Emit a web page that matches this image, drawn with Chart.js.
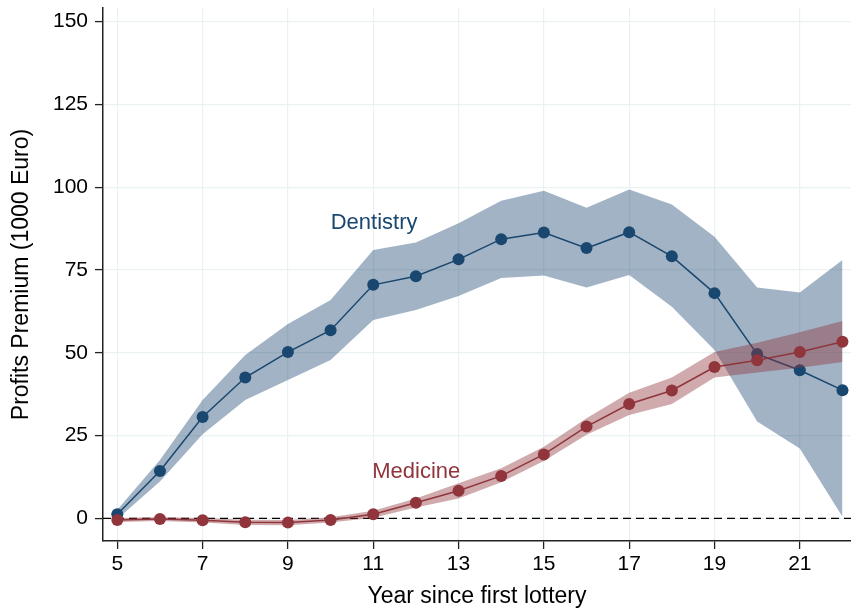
<!DOCTYPE html>
<html>
<head>
<meta charset="utf-8">
<script src="https://cdn.jsdelivr.net/npm/chart.js@4.4.1/dist/chart.umd.min.js"></script>
<style>
  html, body { margin: 0; padding: 0; background: #fff; }
  #chart { display: block; }
</style>
</head>
<body>
<canvas id="chart" width="851" height="615"></canvas>
<script>
const years = [5, 6, 7, 8, 9, 10, 11, 12, 13, 14, 15, 16, 17, 18, 19, 20, 21, 22];

const dentMean  = [1.2, 14.3, 30.6, 42.5, 50.2, 56.8, 70.5, 73.1, 78.2, 84.3, 86.3, 81.6, 86.4, 79.1, 68.0, 49.6, 44.7, 38.7];
const dentUpper = [2.6, 17.6, 35.7, 49.3, 58.7, 65.9, 81.0, 83.3, 89.1, 95.9, 98.9, 93.8, 99.3, 94.8, 85.0, 69.7, 68.2, 78.0];
const dentLower = [-0.2, 11.1, 25.4, 35.7, 41.8, 47.8, 59.9, 62.9, 67.1, 72.6, 73.3, 69.7, 73.5, 63.9, 50.8, 29.2, 21.1, 0.5];

const medMean  = [-0.5, -0.2, -0.6, -1.2, -1.3, -0.5, 1.2, 4.7, 8.3, 12.8, 19.3, 27.7, 34.5, 38.6, 45.7, 47.7, 50.2, 53.3];
const medUpper = [0.1, 0.4, 0.1, -0.4, -0.5, 0.3, 2.3, 6.0, 10.6, 15.1, 21.6, 30.2, 37.9, 42.5, 50.2, 53.0, 56.2, 59.6];
const medLower = [-1.1, -0.8, -1.3, -2.0, -2.1, -1.3, 0.2, 3.3, 6.0, 10.9, 17.3, 25.2, 31.2, 34.5, 42.5, 44.0, 45.5, 47.2];

const xTicks = [5, 7, 9, 11, 13, 15, 17, 19, 21];
const yTicks = [0, 25, 50, 75, 100, 125, 150];

const seriesLabels = [
  { text: "Dentistry", x: 11.02, y: 87.3, color: "#1a476f" },
  { text: "Medicine", x: 12.01, y: 12.3, color: "#90353b" },
];

const navy = "#1a476f";
const maroon = "#90353b";
const fontFamily = "'Liberation Sans', Arial, Helvetica, sans-serif";

const pts = (vals) => years.map((x, i) => ({ x, y: vals[i] }));

const bandEdge = {
  borderWidth: 0,
  pointRadius: 0,
  pointHoverRadius: 0,
  fill: false,
};

const zeroLine = {
  id: "zeroLine",
  beforeDatasetsDraw(chart) {
    const { ctx, chartArea, scales } = chart;
    const y = scales.y.getPixelForValue(0);
    ctx.save();
    ctx.strokeStyle = "#000";
    ctx.lineWidth = 1.3;
    ctx.setLineDash([8, 5]);
    ctx.beginPath();
    ctx.moveTo(chartArea.left, y);
    ctx.lineTo(chartArea.right, y);
    ctx.stroke();
    ctx.restore();
  },
};

const textLabels = {
  id: "textLabels",
  afterDatasetsDraw(chart) {
    const { ctx, scales } = chart;
    ctx.save();
    ctx.font = `22px ${fontFamily}`;
    ctx.textAlign = "center";
    ctx.textBaseline = "alphabetic";
    seriesLabels.forEach((l) => {
      ctx.fillStyle = l.color;
      ctx.fillText(l.text, scales.x.getPixelForValue(l.x), scales.y.getPixelForValue(l.y));
    });
    ctx.restore();
  },
};

new Chart(document.getElementById("chart"), {
  type: "line",
  data: {
    datasets: [
      { ...bandEdge, data: pts(dentLower), order: 6 },
      { ...bandEdge, data: pts(dentUpper), fill: "-1", backgroundColor: "rgba(26,71,111,0.41)", order: 5 },
      {
        data: pts(dentMean),
        borderColor: navy,
        borderWidth: 1.5,
        pointRadius: 6,
        pointBorderWidth: 0,
        pointBackgroundColor: navy,
        fill: false,
        order: 4,
      },
      { ...bandEdge, data: pts(medLower), order: 3 },
      { ...bandEdge, data: pts(medUpper), fill: "-1", backgroundColor: "rgba(144,53,59,0.42)", order: 2 },
      {
        data: pts(medMean),
        borderColor: maroon,
        borderWidth: 1.5,
        pointRadius: 6,
        pointBorderWidth: 0,
        pointBackgroundColor: maroon,
        fill: false,
        order: 1,
      },
    ],
  },
  options: {
    responsive: false,
    animation: false,
    devicePixelRatio: 1,
    layout: { padding: 0, autoPadding: false },
    elements: { line: { tension: 0 } },
    datasets: { line: { clip: false } },
    scales: {
      x: {
        type: "linear",
        min: 4.665,
        max: 22.2,
        afterBuildTicks(scale) {
          scale.ticks = xTicks.map((v) => ({ value: v }));
        },
        afterFit(scale) {
          scale.height = 74;
          scale.paddingLeft = 0;
          scale.paddingRight = 0;
        },
        grid: {
          color: "#e9f1f2",
          lineWidth: 1.2,
          tickColor: "#222",
          tickLength: 8,
          tickWidth: 1.3,
        },
        border: { color: "#222", width: 1.5 },
        ticks: {
          autoSkip: false,
          maxRotation: 0,
          padding: 3,
          color: "#000",
          font: { family: fontFamily, size: 21 },
        },
        title: {
          display: true,
          text: "Year since first lottery",
          color: "#000",
          font: { family: fontFamily, size: 23 },
          padding: { top: 0, bottom: 5 },
        },
      },
      y: {
        type: "linear",
        min: -6.85,
        max: 154.1,
        afterBuildTicks(scale) {
          scale.ticks = yTicks.map((v) => ({ value: v }));
        },
        afterFit(scale) {
          scale.width = 103;
          scale.paddingTop = 8;
          scale.paddingBottom = 0;
        },
        grid: {
          color: "#e9f1f2",
          lineWidth: 1.2,
          tickColor: "#222",
          tickLength: 8,
          tickWidth: 1.3,
        },
        border: { color: "#222", width: 1.5 },
        ticks: {
          autoSkip: false,
          padding: 7,
          color: "#000",
          font: { family: fontFamily, size: 21 },
        },
        title: {
          display: true,
          text: "Profits Premium (1000 Euro)",
          color: "#000",
          font: { family: fontFamily, size: 23 },
          padding: { top: 8, bottom: 0 },
        },
      },
    },
    plugins: {
      legend: { display: false },
      tooltip: { enabled: false },
    },
  },
  plugins: [zeroLine, textLabels],
});
</script>
</body>
</html>
